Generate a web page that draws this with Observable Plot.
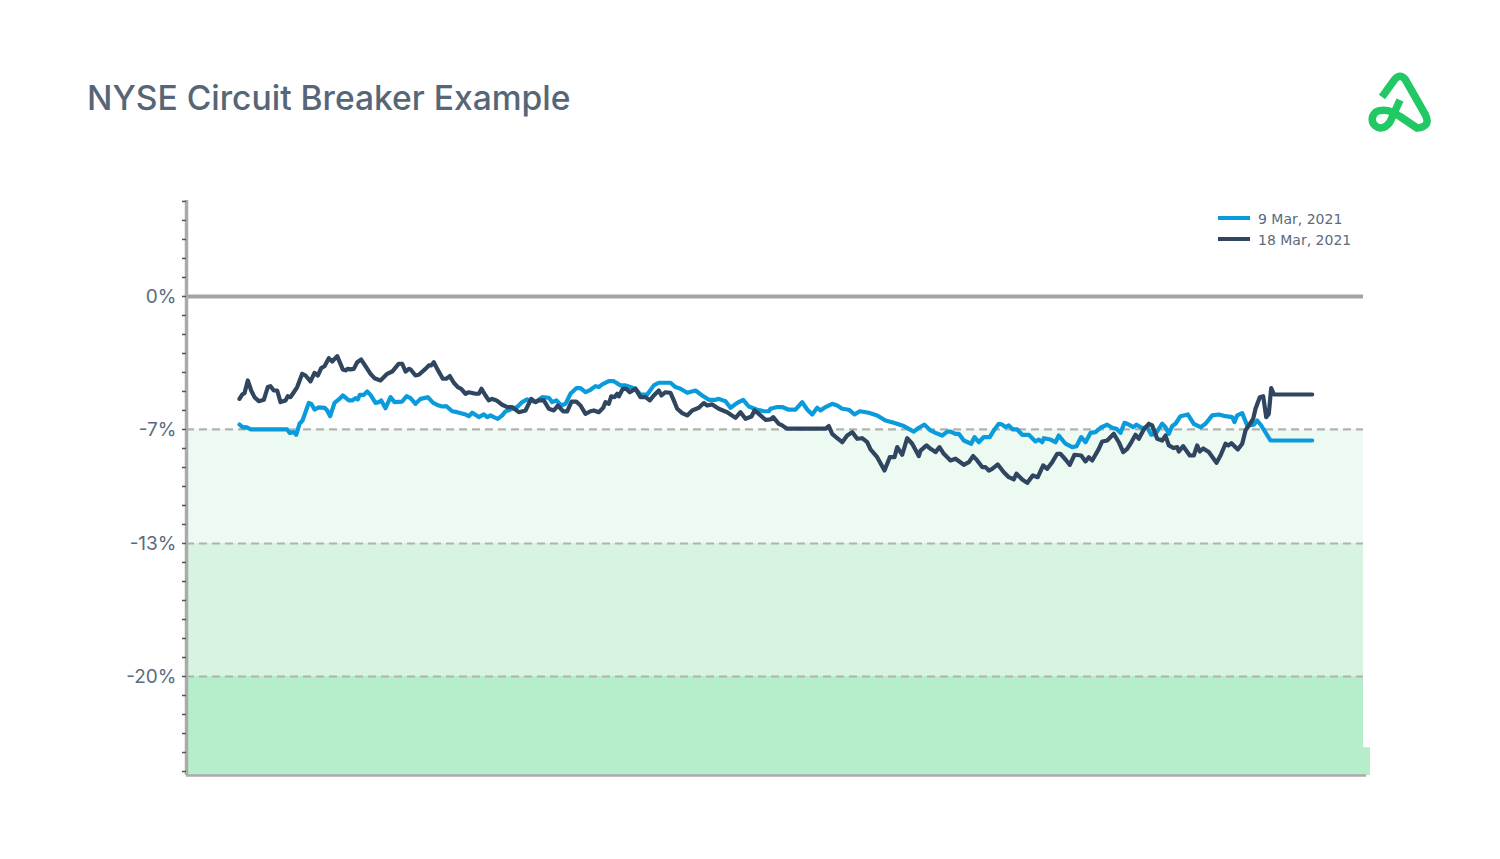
<!DOCTYPE html>
<html>
<head>
<meta charset="utf-8">
<script src="https://cdn.jsdelivr.net/npm/d3@7"></script>
<script src="https://cdn.jsdelivr.net/npm/@observablehq/plot@0.6"></script>
<style>
html,body{margin:0;padding:0;background:#fff;width:1500px;height:859px;overflow:hidden;}
#page{position:relative;width:1500px;height:859px;}
#head{height:190px;box-sizing:border-box;padding:77px 0 0 87px;font:500 33.600px/42px Inter,sans-serif;color:#566677;}
#chart svg{display:block;overflow:visible;}
#logo{position:absolute;left:0;top:0;pointer-events:none;}
.lg{position:absolute;left:1218px;font:14px/16px "DejaVu Sans",sans-serif;color:#5b6a7c;white-space:nowrap;}
.lg i{display:inline-block;width:32px;height:4px;vertical-align:4px;margin-right:8px;}
</style>
</head>
<body>
<div id="page">
<div id="head">NYSE Circuit Breaker Example</div>
<div id="chart"></div>
<svg id="logo" width="1500" height="200" fill="none" stroke="#22c864" stroke-width="7.6" stroke-linejoin="round">
<path d="M1382 97L1395 79Q1400 73.500 1405 79L1425.500 115Q1431 127 1417 128L1400 116.500L1392 112Q1386 109.500 1381 110.500A8.750 8.750 0 1 0 1381 128Q1386 127.500 1390 122L1400 100"/>
</svg>
<div class="lg" style="top:211px"><i style="background:#0a9bdc"></i>9 Mar, 2021</div>
<div class="lg" style="top:232px"><i style="background:#2f4560"></i>18 Mar, 2021</div>
</div>
<script>
// Series values: sample position along the session and % change from reference
const mar9X = [1,4.3,7.7,12.7,48.7,51.3,55.3,57.7,61,64,70.3,73,76,80.3,86.3,88.7,91.7,96,100.3,104.3,110.3,113.7,117,119.3,121.3,125.3,128.7,132,137,140.3,142.7,147,152,156,163.7,168,172,177,182,189.3,194.7,200.3,203.7,207.7,213.7,218.7,227,230.3,233.7,240.3,245.3,248.7,252,255.3,259.3,263.7,267,273.7,278.7,283.7,288.7,297,303.7,310.3,313.7,318,322.7,327,332,338,342,347,352,357,360.3,363.7,370.3,375.3,382,387,397,402,408.7,415.3,420.3,432,437,442,448.7,457,463.7,470.3,477,480.3,487,492,498.7,504.7,510.3,518.7,525.3,530.3,532,538.7,543.7,550.3,557,563.7,568.7,573.7,578.7,582,587,593.7,598.7,603.7,610.3,616,621.3,630.3,638.7,647,655.3,665.3,675.3,680.3,686,692,697,703.7,708.7,712,717,720.3,725.3,732.7,736,740.3,745.3,751.3,755.3,760.3,763.7,767,770.3,774.3,778.7,783.7,790.3,797,800.3,803.7,805.3,812,817,820.3,827,833.7,838,842.7,847,852,857,862,868.7,873.7,878,882,886,888.7,892,894.7,898,903.7,908.7,912.7,917,923.7,927,930.3,933.7,937,942,949.3,955.3,962,967,973.7,980.3,987,993.7,996,998.7,1003.7,1008.7,1015.3,1018.7,1022.7,1032,1073.7];
const mar9Y = [-6.74,-6.89,-6.88,-7,-7,-7.18,-7.14,-7.28,-6.7,-6.53,-5.6,-5.67,-5.95,-5.84,-5.86,-6,-6.3,-5.6,-5.42,-5.21,-5.47,-5.47,-5.35,-5.42,-5.18,-5.18,-5,-5.18,-5.6,-5.56,-5.47,-5.88,-5.3,-5.56,-5.53,-5.25,-5.35,-5.65,-5.39,-5.3,-5.6,-5.74,-5.79,-5.77,-6.04,-6.09,-6.21,-6.3,-6.12,-6.35,-6.21,-6.35,-6.26,-6.35,-6.44,-6.26,-6.05,-5.91,-5.82,-5.56,-5.42,-5.56,-5.3,-5.33,-5.56,-5.47,-5.74,-5.65,-5.12,-4.82,-4.82,-5.04,-4.91,-4.72,-4.77,-4.63,-4.46,-4.46,-4.68,-4.68,-4.86,-5.16,-5.16,-4.68,-4.54,-4.54,-4.77,-4.86,-5.07,-4.95,-5.21,-5.44,-5.44,-5.39,-5.51,-5.86,-5.6,-5.44,-5.79,-5.96,-6.04,-6.04,-5.91,-5.82,-5.82,-5.96,-5.96,-5.56,-5.95,-6.21,-5.86,-6,-5.82,-5.65,-5.74,-5.91,-5.96,-6.21,-6.04,-6.12,-6.26,-6.53,-6.65,-6.82,-7.11,-6.91,-6.75,-7.05,-7.18,-7.32,-7.11,-7.11,-7.23,-7.23,-7.58,-7.75,-7.4,-7.67,-7.4,-7.4,-7.05,-6.7,-6.74,-6.88,-6.79,-7,-7,-7.28,-7.28,-7.63,-7.53,-7.67,-7.46,-7.53,-7.67,-7.32,-7.75,-7.93,-7.88,-7.4,-7.67,-7.18,-7.14,-6.91,-6.75,-6.91,-6.96,-7.18,-6.65,-6.7,-6.79,-6.88,-6.75,-6.93,-6.88,-7.28,-7.23,-6.7,-6.88,-7.23,-6.82,-6.7,-6.3,-6.21,-6.7,-6.88,-6.7,-6.26,-6.21,-6.3,-6.35,-6.61,-6.26,-6.14,-6.79,-6.75,-6.53,-6.79,-7.58,-7.58];
const mar18X = [1,3.7,6,9.3,12.7,16,20.3,25.3,29.3,32,35.3,38.7,42,47,49.3,52,55.3,58.7,63.7,67,72,76,79.3,82.7,86,90.3,93.7,98.7,104.3,107,109.3,112,115.3,118.7,122.7,127,132,136,142,148.7,153.7,160.3,163.7,167,170.3,172,177,180.3,187,190.3,192.7,195.3,198.7,204.3,207.7,211.3,215.3,219.3,222.7,227,230.3,237,240.3,243,247,250.3,253.7,258,263.7,268.7,273.7,280.3,287,292.7,297,300.3,305.3,310.3,315.3,319.3,324.7,328.7,333,337.7,342,347,352,355.3,360.3,364.7,367,370.3,372.7,376,378.7,380.3,384.3,387.7,391.3,397,402,407,411.3,415.3,420.3,423,427,432,435.3,438.7,443.7,448.7,453.7,460.3,465.3,468.7,473.7,480.3,488.7,497,502,507,513,516,520.3,527,532,534.7,540.3,543.7,548.7,587,590.3,593.7,598.7,603.7,608.7,613.7,618.7,623.7,628.7,632,638.7,646,651.3,656,658.7,663.7,668.7,673.7,680.3,682,688,692,697,701,705.3,712,717,725.3,730.3,734.7,738.7,743.7,747,750.3,753.7,759.3,765.3,770.3,775.3,778,783.7,788.7,794.3,799.3,804.7,808.7,813.7,818.7,822,827,831.3,836,842.7,847,850.3,853.7,860.3,863.7,868.7,875.3,880.3,884.7,888.7,892,897,900.3,905.3,910.3,913.7,918.7,923.7,927,930.3,935.3,938.7,940.3,944.7,951.3,955.3,958.7,961.3,964.7,970.3,978,982,987,989.7,993,999.3,1003.7,1007,1010.3,1014.7,1017,1021.3,1024.7,1027.7,1030.3,1032.7,1035.5,1073.7];
const mar18Y = [-5.39,-5.16,-5.09,-4.42,-4.95,-5.3,-5.51,-5.44,-4.77,-4.72,-4.95,-4.95,-5.56,-5.47,-5.25,-5.3,-5.04,-4.77,-4.07,-4.16,-4.47,-4.02,-4.16,-3.77,-3.67,-3.25,-3.42,-3.14,-3.84,-3.89,-3.81,-3.84,-3.81,-3.46,-3.32,-3.67,-4.07,-4.3,-4.42,-4.07,-3.95,-3.54,-3.54,-3.95,-3.81,-3.84,-4.16,-4.12,-3.81,-3.63,-3.63,-3.46,-3.81,-4.33,-4.33,-4.19,-4.54,-4.77,-4.86,-5.12,-5.04,-5.12,-5.12,-4.86,-5.21,-5.47,-5.39,-5.47,-5.7,-5.82,-5.82,-6.09,-6,-5.39,-5.56,-5.47,-5.47,-5.91,-6,-5.74,-6.05,-6.05,-5.53,-5.53,-5.74,-6.18,-6.04,-6,-6.09,-5.86,-5.56,-5.65,-5.26,-5.3,-5.12,-5.26,-4.86,-4.86,-5.04,-4.86,-5.3,-5.3,-5.47,-5.21,-4.95,-5.21,-5.04,-5.07,-5.47,-5.91,-6.14,-6.26,-6,-5.86,-5.61,-5.74,-5.68,-5.91,-6.09,-6.39,-6.09,-6.44,-6.32,-6,-6.18,-6.49,-6.47,-6.35,-6.7,-6.79,-6.96,-6.96,-6.82,-7.23,-7.46,-7.67,-7.32,-7.14,-7.49,-7.46,-7.67,-8.05,-8.46,-9.16,-8.46,-8.46,-7.93,-8.33,-7.46,-7.75,-8.4,-8.11,-7.84,-8.02,-8.19,-7.93,-8.28,-8.63,-8.54,-8.86,-8.72,-8.4,-8.63,-8.98,-8.98,-9.16,-9.07,-8.84,-9.25,-9.51,-9.63,-9.33,-9.63,-9.81,-9.42,-9.51,-8.89,-9.07,-8.72,-8.28,-8.28,-8.58,-8.86,-8.33,-8.37,-8.68,-8.46,-8.63,-8.02,-7.63,-7.58,-7.23,-7.67,-8.19,-8.02,-7.75,-7.28,-7.49,-7,-6.7,-6.79,-7.49,-7.58,-7.32,-7.84,-7.98,-7.93,-8.16,-7.88,-8.37,-8.37,-7.84,-8.16,-8,-8.19,-8.75,-8.37,-7.75,-7.84,-7.72,-8.05,-7.75,-7.05,-6.79,-6.44,-5.91,-5.3,-5.25,-6.35,-6.18,-4.82,-5.16,-5.16];
const breakerLevels = [-7,-13,-20];
const labelTicks = [0,-7,-13,-20];
const minorTicks = d3.range(-25,6);
const bands = [
  {from:-7,to:-13,fill:"#edfaf2"},
  {from:-13,to:-20,fill:"#d7f3e2"},
  {from:-20,to:-25.21,fill:"#b6edcb"}
];
const xDomain = [-52,1125];
const yDomain = [-25.21,5.05];
const table = (xs,ys) => xs.map((x,i)=>({x,y:ys[i]}));

const plot = Plot.plot({
  width:1500,height:600,
  marginLeft:186,marginRight:137,marginTop:10,marginBottom:15,
  x:{domain:xDomain,axis:null},
  y:{domain:yDomain,axis:null},
  style:{background:"transparent",fontFamily:"Inter,sans-serif"},
  marks:[
    Plot.rect(bands,{x1:xDomain[0],x2:xDomain[1],y1:"from",y2:"to",fill:"fill"}),
    Plot.rect([{x1:xDomain[1],x2:1132,y1:-23.75,y2:-25.21}],{x1:"x1",x2:"x2",y1:"y1",y2:"y2",fill:"#b6edcb"}),
    Plot.ruleY(breakerLevels,{stroke:"#b2b2ae",strokeWidth:2.2,strokeDasharray:"8 5"}),
    Plot.ruleY([0],{stroke:"#a4a4a4",strokeWidth:4}),
    Plot.ruleX([xDomain[0]],{stroke:"#aaaaaa",strokeWidth:3.5}),
    Plot.ruleY([yDomain[0]],{x1:xDomain[0],x2:1128,stroke:"#aaaaaa",strokeWidth:2.5}),
    Plot.axisY({ticks:minorTicks,tickSize:4,text:null,stroke:"#555",strokeWidth:1.5,anchor:"left",label:null}),
    Plot.axisY({ticks:labelTicks,tickSize:0,tickPadding:10,tickFormat:d=>d+"%",fontSize:19,fill:"#5a6b7e",fontVariant:"normal",anchor:"left",label:null}),
    Plot.line(table(mar9X,mar9Y),{x:"x",y:"y",stroke:"#0a9bdc",strokeWidth:4.2,strokeLinejoin:"round",strokeLinecap:"round"}),
    Plot.line(table(mar18X,mar18Y),{x:"x",y:"y",stroke:"#2f4560",strokeWidth:4.2,strokeLinejoin:"round",strokeLinecap:"round"})
  ]
});
document.getElementById("chart").appendChild(plot);
</script>
</body>
</html>
